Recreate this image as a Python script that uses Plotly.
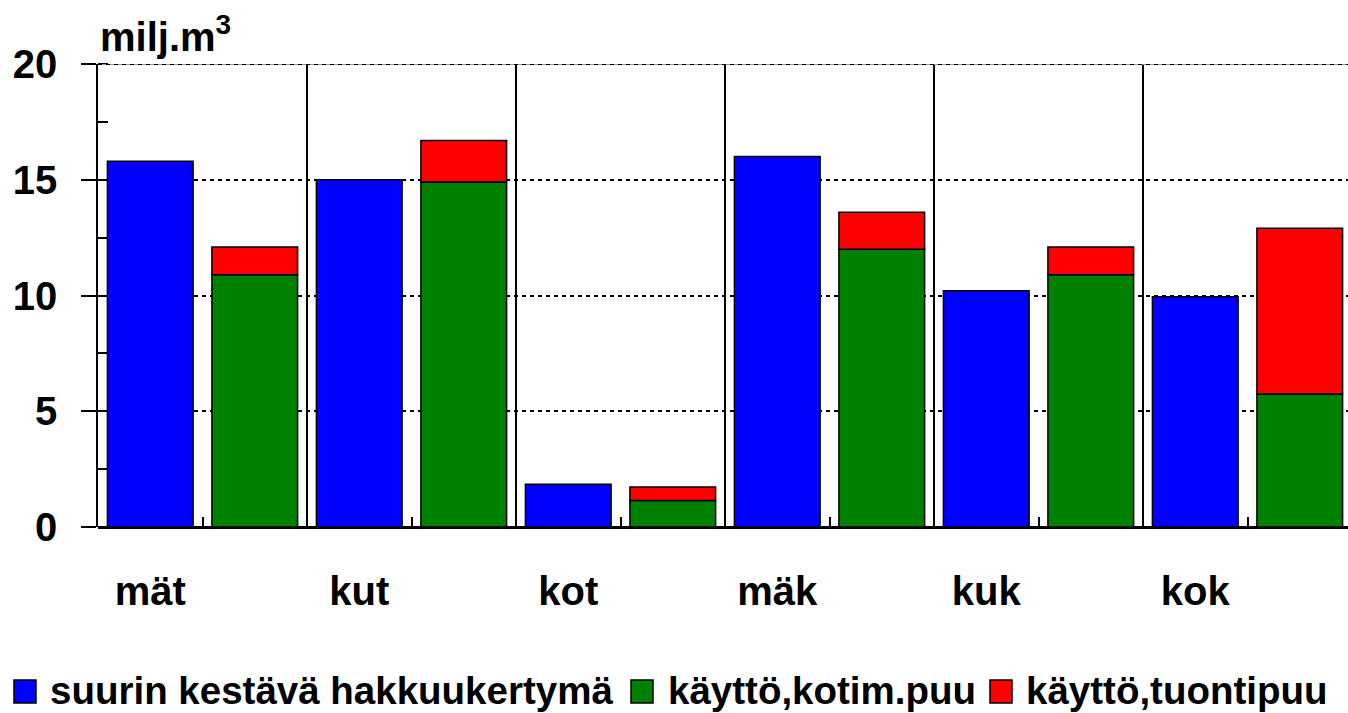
import plotly.graph_objects as go

categories = ["mät", "kut", "kot", "mäk", "kuk", "kok"]
hakkuukertyma = [15.8, 15.0, 1.85, 16.0, 10.2, 9.95]
kaytto_kotim = [10.9, 14.9, 1.15, 12.0, 10.9, 5.75]
kaytto_tuonti = [1.2, 1.8, 0.58, 1.6, 1.2, 7.15]
series_names = ["suurin kestävä hakkuukertymä", "käyttö,kotim.puu", "käyttö,tuontipuu"]
series_colors = ["#0000FF", "#008000", "#FF0000"]
y_ticks = [0, 5, 10, 15, 20]

FONT = "Liberation Sans, Arial, sans-serif"
n = len(categories)
x_blue = [i + 0.25 for i in range(n)]
x_green = [i + 0.75 for i in range(n)]
bw = 0.41
line = dict(color="black", width=1.5)

W, H = 1348, 713
ML, MT, MB = 98, 64, 186
PW, PH = W - ML, H - MT - MB


def px_x(p):
    return (p - ML) / PW


def px_y(p):
    return (H - MB - p) / PH


fig = go.Figure()
fig.add_trace(go.Bar(x=x_blue, y=hakkuukertyma, width=bw, name=series_names[0],
                     marker=dict(color=series_colors[0], line=line), showlegend=False))
fig.add_trace(go.Bar(x=x_green, y=kaytto_kotim, width=bw, name=series_names[1],
                     marker=dict(color=series_colors[1], line=line), showlegend=False))
fig.add_trace(go.Bar(x=x_green, y=kaytto_tuonti, base=kaytto_kotim, width=bw, name=series_names[2],
                     marker=dict(color=series_colors[2], line=line), showlegend=False))
# helper trace for small x ticks on overlay axis
fig.add_trace(go.Scatter(x=[0.5], y=[0], xaxis="x2", mode="markers",
                         marker=dict(opacity=0), showlegend=False, hoverinfo="skip"))

xmax = PW / 209.0

shapes = [dict(type="line", xref="paper", yref="y", x0=0, x1=1, y0=20, y1=20,
               line=dict(color="#999999", width=2)),
          dict(type="line", xref="paper", yref="y", x0=0, x1=1, y0=20, y1=20,
               line=dict(color="black", width=2, dash="4px,4px"))]
annotations = [dict(
    text="milj.m<sup>3</sup>", xref="paper", yref="paper",
    x=0.0, y=px_y(34), xanchor="left", yanchor="middle",
    showarrow=False, font=dict(size=40, family=FONT, weight="bold"),
)]

# manual legend (square swatch + label) along the bottom
legend_sq_x = [14, 631, 990]
legend_txt_x = [48, 666, 1024]
for name, col, sx, tx in zip(series_names, series_colors, legend_sq_x, legend_txt_x):
    shapes.append(dict(type="rect", xref="paper", yref="paper",
                       x0=px_x(sx), x1=px_x(sx + 22), y0=px_y(703), y1=px_y(680),
                       fillcolor=col, line=dict(color="black", width=1.5)))
    annotations.append(dict(text=name, xref="paper", yref="paper",
                            x=px_x(tx), y=px_y(690), xanchor="left", yanchor="middle",
                            showarrow=False,
                            font=dict(size=38.5, family=FONT, weight="bold")))

fig.update_layout(
    width=W, height=H,
    margin=dict(l=ML, r=0, t=MT, b=MB),
    plot_bgcolor="white", paper_bgcolor="white",
    barmode="overlay",
    showlegend=False,
    font=dict(family=FONT, size=30, color="black", weight="bold"),
    xaxis=dict(
        range=[0, xmax], tickmode="array", tickvals=x_blue, ticktext=categories,
        ticks="", showgrid=False, zeroline=False, automargin=False,
        showline=False,
        tickfont=dict(size=40, family=FONT, weight="bold"),
        ticklabelstandoff=37,
        minor=dict(tickmode="array", tickvals=[1, 2, 3, 4, 5], showgrid=True,
                   gridcolor="black", gridwidth=1.5, ticks=""),
    ),
    xaxis2=dict(
        range=[0, xmax], overlaying="x", side="bottom", anchor="y",
        tickmode="array", tickvals=[i + 0.5 for i in range(n)], showticklabels=False,
        ticks="inside", ticklen=10, tickwidth=1.5, tickcolor="black", automargin=False,
        showgrid=False, zeroline=False, showline=False,
    ),
    yaxis=dict(
        range=[0, 20], tickmode="array", tickvals=y_ticks, automargin=False,
        ticks="outside", ticklen=15, tickwidth=1.5, tickcolor="black",
        showgrid=True, gridcolor="black", gridwidth=2, griddash="4px,4px",
        zeroline=True, zerolinecolor="black", zerolinewidth=2.5,
        showline=True, linecolor="black", linewidth=1.5,
        tickfont=dict(size=40, family=FONT, weight="bold"),
        ticklabelstandoff=16,
        minor=dict(dtick=2.5, ticks="inside", ticklen=10, tickwidth=1.5,
                   tickcolor="black", showgrid=False),
    ),
    shapes=shapes,
    annotations=annotations,
)

fig.write_html("out.html", config={"displayModeBar": False},
               post_script="document.body.style.margin='0px';")
